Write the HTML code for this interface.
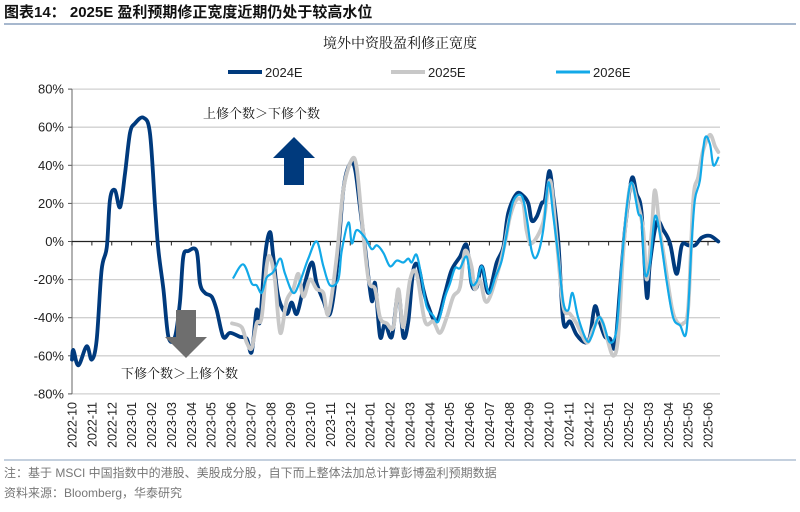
<!DOCTYPE html>
<html><head><meta charset="utf-8"><style>
body{margin:0;background:#fff;width:800px;height:507px;overflow:hidden;font-family:"Liberation Sans","Noto Sans CJK SC",sans-serif}
</style></head><body>
<svg width="800" height="507" xmlns="http://www.w3.org/2000/svg" font-family="Liberation Sans, Noto Sans CJK SC, sans-serif">
<text x="4" y="17" font-size="15" font-weight="bold" fill="#111">图表14：  2025E 盈利预期修正宽度近期仍处于较高水位</text>
<line x1="4" y1="24" x2="796" y2="24" stroke="#8aa0bd" stroke-width="1.5"/>
<text x="400" y="48" font-size="14" text-anchor="middle" fill="#111" font-family="Liberation Serif, Noto Serif CJK SC, serif">境外中资股盈利修正宽度</text>
<g>
<g><line x1="228" y1="72" x2="262" y2="72" stroke="#003a7d" stroke-width="4"/><text x="265" y="77" font-size="13" fill="#222">2024E</text></g>
<g><line x1="391" y1="72" x2="425" y2="72" stroke="#c8c8c8" stroke-width="4"/><text x="428" y="77" font-size="13" fill="#222">2025E</text></g>
<g><line x1="556" y1="72" x2="590" y2="72" stroke="#12a9e8" stroke-width="3"/><text x="593" y="77" font-size="13" fill="#222">2026E</text></g>
</g>
<g id="grid"></g><g id="axes"></g><g id="series"></g>
<g>
<text x="203" y="118" font-size="13" fill="#111" font-family="Liberation Serif, Noto Serif CJK SC, serif">上修个数＞下修个数</text>
<polygon points="294,137 315,158 304,158 304,185 284,185 284,158 273,158" fill="#003a7d"/>
</g>
<g>
<polygon points="176,310 196,310 196,337 207,337 186,358 165,337 176,337" fill="#6e6e6e"/>
<text x="121" y="378" font-size="13" fill="#111" font-family="Liberation Serif, Noto Serif CJK SC, serif">下修个数＞上修个数</text>
</g>
<line x1="4" y1="460" x2="796" y2="460" stroke="#8aa0bd" stroke-width="1"/>
<text x="4" y="477" font-size="12" fill="#777">注：基于 MSCI 中国指数中的港股、美股成分股，自下而上整体法加总计算彭博盈利预期数据</text>
<text x="4" y="497" font-size="12" fill="#777">资料来源：Bloomberg，华泰研究</text>
</svg>
<script>
const monthLabels=["2022-10","2022-11","2022-12","2023-01","2023-02","2023-03","2023-04","2023-05","2023-06","2023-07","2023-08","2023-09","2023-10","2023-11","2023-12","2024-01","2024-02","2024-03","2024-04","2024-05","2024-06","2024-07","2024-08","2024-09","2024-10","2024-11","2024-12","2025-01","2025-02","2025-03","2025-04","2025-05","2025-06"];
const yTicks=[80,60,40,20,0,-20,-40,-60,-80];
// time in months since 2022-10
const t2024=[0,0.07,0.32,0.74,0.99,1.24,1.49,1.75,1.91,2.16,2.42,2.67,2.92,3.17,3.59,3.92,4.18,4.34,4.6,4.85,5.18,5.43,5.6,5.85,6.27,6.44,6.69,7.03,7.28,7.61,7.95,8.45,8.79,9.04,9.29,9.46,9.71,9.96,10.13,10.38,10.8,11.05,11.31,11.64,12.06,12.31,12.65,12.98,13.32,13.65,13.99,14.24,14.49,14.74,15.08,15.25,15.5,15.75,16.09,16.42,16.67,16.92,17.17,17.42,17.67,17.92,18.35,18.77,19.1,19.52,19.86,20.1,20.36,20.62,20.95,21.37,21.7,21.95,22.37,22.7,22.96,23.13,23.38,23.63,23.8,24.02,24.22,24.47,24.72,25.06,25.39,25.81,26.06,26.31,26.57,26.82,27.07,27.32,27.57,27.82,28.16,28.41,28.66,28.92,29.08,29.42,29.75,30.09,30.42,30.68,31.01,31.35,31.68,32.1,32.52];
const v2024=[-62,-57,-65,-55,-62,-52,-15,-3,22,27,18,36,57,62,65,57,18,-4,-25,-50,-50,-32,-8,-5,-5,-22,-27,-29,-36,-50,-48,-50,-51,-58,-36,-42,-8,5,-8,-29,-38,-32,-38,-25,-11,-22,-31,-38,-15,27,41,38,18,-3,-31,-22,-50,-43,-50,-27,-50,-42,-15,-13,-25,-34,-42,-27,-15,-8,-2,-22,-24,-13,-27,-11,-3,15,25,24,20,11,13,20,22,37,23,0,-42,-42,-49,-53,-50,-34,-43,-50,-51,-55,-25,6,33,25,15,-29,-11,10,6,-1,-17,-2,-2,-2,2,3,0];
const t2025=[8.05,8.54,8.79,9.04,9.29,9.54,9.79,9.96,10.21,10.48,10.8,11.13,11.39,11.64,11.97,12.31,12.65,12.9,13.32,13.65,14.08,14.32,14.58,14.92,15.25,15.5,15.84,16.17,16.42,16.67,17.01,17.34,17.76,18.18,18.51,18.85,19.18,19.52,19.77,20.1,20.26,20.52,20.78,21.03,21.45,21.78,22.04,22.37,22.7,22.87,23.13,23.71,24.06,24.39,24.72,25.06,25.39,25.9,26.23,26.57,26.9,27.23,27.48,27.74,28.08,28.41,28.74,28.92,29.17,29.33,29.58,29.83,30.17,30.42,30.75,31.01,31.26,31.51,31.76,32.1,32.35,32.52];
const v2025=[-43,-45,-53,-56,-43,-40,-13,-8,-20,-48,-31,-25,-17,-29,-20,-25,-27,-38,-8,27,43,39,12,-20,-25,-40,-43,-45,-25,-45,-20,-17,-42,-42,-48,-40,-29,-24,-5,-13,-25,-20,-31,-29,-15,-1,13,22,20,6,-1,10,32,0,-34,-38,-43,-53,-46,-40,-50,-60,-50,-5,29,22,6,-20,6,27,6,-11,-34,-42,-43,-34,22,34,48,56,50,47];
const t2026=[8.12,8.62,9.04,9.29,9.54,9.79,10.13,10.48,10.72,11.13,11.47,11.89,12.31,12.65,12.98,13.4,13.57,13.91,14.08,14.32,14.74,15.08,15.34,15.67,16,16.34,16.67,16.92,17.09,17.34,17.59,17.84,18.18,18.43,18.77,19.02,19.27,19.52,19.86,20.1,20.36,20.62,20.87,21.03,21.29,21.62,21.87,22.2,22.62,22.87,23.13,23.38,23.71,23.97,24.22,24.47,24.72,24.97,25.18,25.47,25.9,26.14,26.48,26.73,27.07,27.4,27.65,27.9,28.16,28.49,28.66,28.83,29.08,29.33,29.58,29.92,30.25,30.59,30.92,31.17,31.34,31.59,31.84,32.1,32.27,32.52];
const v2026=[-19,-12,-22,-23,-27,-19,-16,-9,-17,-27,-21,-9,0,-13,-23,-20,-5,10,-1,6,2,-4,-2,-6,-13,-10,-11,-9,-11,-7,-19,-34,-39,-42,-29,-22,-14,-14,-8,-22,-21,-13,-24,-27,-19,-10,4,21,24,13,-5,-8,6,31,13,-8,-32,-36,-27,-40,-52,-50,-40,-43,-53,-46,-13,17,31,15,11,-17,-11,13,4,-21,-40,-44,-47,-2,22,32,54,51,40,44];

const NS="http://www.w3.org/2000/svg";
const X0=72,MW=19.875,Y0=241.5,PY=38.1/20;
const xs=m=>X0+m*MW, ys=v=>Y0-v*PY;
function mk(tag,attrs,parent){const e=document.createElementNS(NS,tag);for(const k in attrs)e.setAttribute(k,attrs[k]);parent.appendChild(e);return e;}
const grid=document.getElementById('grid'),axes=document.getElementById('axes'),ser=document.getElementById('series');
yTicks.forEach(v=>{
  if(v!==0&&v!==-80){const g=mk('line',{x1:X0,x2:720,y1:ys(v),y2:ys(v),stroke:'#d0d0d0','stroke-width':1.3},grid);
  
  }
  const tk=mk('line',{x1:X0-4,x2:X0,y1:ys(v),y2:ys(v),stroke:'#555'},axes);
  
  
  const t=mk('text',{x:X0-8,y:ys(v)+4.5,'font-size':13,'text-anchor':'end',fill:'#222'},axes);
  t.textContent=v+'%';
  
  
});
const bl=mk('line',{x1:X0,x2:720,y1:ys(-80),y2:ys(-80),stroke:'#d0d0d0','stroke-width':1.3},grid);


const ya=mk('line',{x1:X0,x2:X0,y1:ys(80),y2:ys(-80),stroke:'#666'},axes);


const za=mk('line',{x1:X0,x2:720,y1:Y0,y2:Y0,stroke:'#222','stroke-width':1.2},axes);


monthLabels.forEach((lab,i)=>{
  const x=xs(i);
  const tk=mk('line',{x1:x,x2:x,y1:Y0,y2:Y0+4,stroke:'#222'},axes);
  
  
  const t=mk('text',{x:0,y:0,'font-size':12.5,'text-anchor':'end',fill:'#222',transform:`translate(${x+4.5},402) rotate(-90)`},axes);
  t.textContent=lab;
  
  
});
function line(ts,vs,color,w,name){
  const P=ts.map((m,i)=>[xs(m),ys(vs[i])]);
  let d='M'+P[0][0].toFixed(1)+','+P[0][1].toFixed(1);
  const k=0.25;
  for(let i=0;i<P.length-1;i++){
    const p0=P[Math.max(0,i-1)],p1=P[i],p2=P[i+1],p3=P[Math.min(P.length-1,i+2)];
    const c1=[p1[0]+(p2[0]-p0[0])*k/1.5,p1[1]+(p2[1]-p0[1])*k/1.5];
    const c2=[p2[0]-(p3[0]-p1[0])*k/1.5,p2[1]-(p3[1]-p1[1])*k/1.5];
    d+='C'+c1[0].toFixed(1)+','+c1[1].toFixed(1)+' '+c2[0].toFixed(1)+','+c2[1].toFixed(1)+' '+p2[0].toFixed(1)+','+p2[1].toFixed(1);
  }
  const p=mk('path',{d:d,fill:'none',stroke:color,'stroke-width':w,'stroke-linejoin':'round','stroke-linecap':'round'},ser);
  
  
}
line(t2024,v2024,'#003a7d',3.8,'series-2024e');
line(t2025,v2025,'#c8c8c8',3.8,'series-2025e');
line(t2026,v2026,'#12a9e8',2.2,'series-2026e');
</script>
</body></html>
